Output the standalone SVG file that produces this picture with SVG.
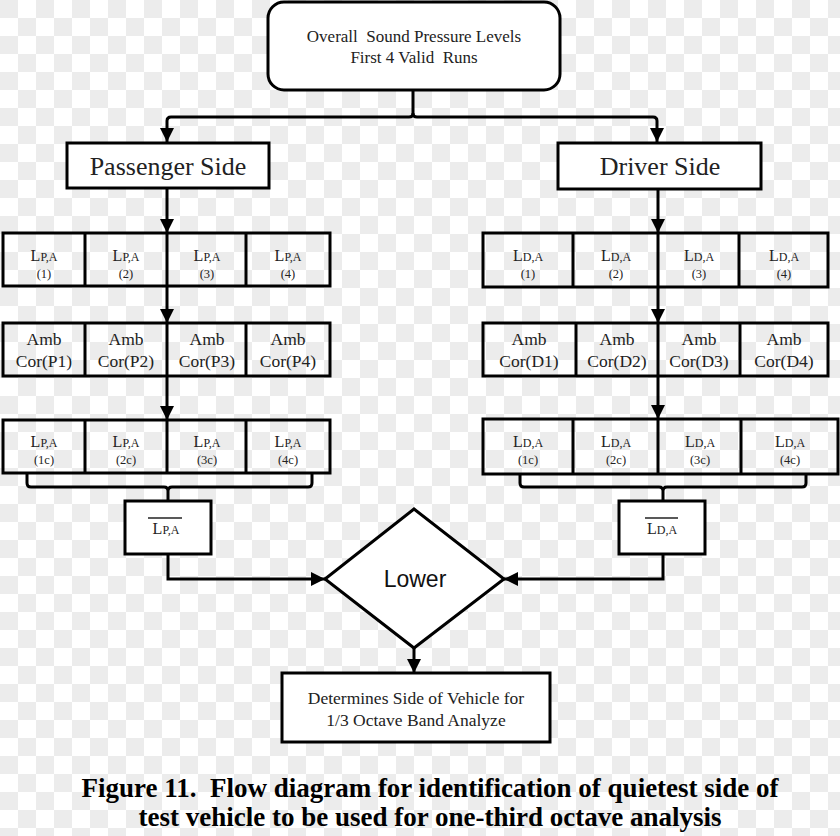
<svg xmlns="http://www.w3.org/2000/svg" width="840" height="836" viewBox="0 0 840 836">
<defs>
<pattern id="checker" width="36" height="36" patternUnits="userSpaceOnUse">
<rect width="36" height="36" fill="#ffffff"/>
<rect width="18" height="18" fill="#ececec"/>
<rect x="18" y="18" width="18" height="18" fill="#ececec"/>
</pattern>
<marker id="arr" markerWidth="14" markerHeight="14" viewBox="0 0 14 14" refX="14" refY="7" orient="auto" markerUnits="userSpaceOnUse">
<path d="M0,0 L14,7 L0,14 Z" fill="#000"/>
</marker>
</defs>
<style>
.box{fill:#fff;stroke:#000;stroke-width:3}
.cell{fill:none;stroke:#000;stroke-width:3}
.ln{fill:none;stroke:#000;stroke-width:3}
.t{font-family:"Liberation Serif","Times New Roman",serif;fill:#222;text-anchor:middle}
.L{font-size:16px}
.sub{font-size:12px}
.n{font-size:12.5px}
.s{font-family:"Liberation Sans",Arial,sans-serif;fill:#111;text-anchor:middle}
.cap{font-family:"Liberation Serif","Times New Roman",serif;font-weight:bold;fill:#000;text-anchor:middle;white-space:pre}
</style>
<rect width="840" height="836" fill="url(#checker)"/>

<g id="connectors">
<path class="ln" d="M413,90 V113 Q413,117 409,117 H171 Q167,117 167,121 V142" marker-end="url(#arr)"/>
<path class="ln" d="M413,113 Q413,117 417,117 H653 Q657,117 657,121 V142" marker-end="url(#arr)"/>
<path class="ln" d="M167,188 V233" marker-end="url(#arr)"/>
<path class="ln" d="M167,286 V323" marker-end="url(#arr)"/>
<path class="ln" d="M167,376 V420" marker-end="url(#arr)"/>
<path class="ln" d="M658,189 V233" marker-end="url(#arr)"/>
<path class="ln" d="M658,287 V323" marker-end="url(#arr)"/>
<path class="ln" d="M658,376 V419" marker-end="url(#arr)"/>
<path class="ln" d="M27,473 V483 Q27,487 31,487 H164 Q168,487 168,491 V501 M168,491 Q168,487 172,487 H308 Q312,487 312,483 V473"/>
<path class="ln" d="M520,475 V483 Q520,487 524,487 H659 Q663,487 663,491 V501 M663,491 Q663,487 667,487 H802 Q806,487 806,483 V475"/>
<path class="ln" d="M168,554 V579 H325" marker-end="url(#arr)"/>
<path class="ln" d="M663,554 V579 H504" marker-end="url(#arr)"/>
<path class="ln" d="M414,648 V673" marker-end="url(#arr)"/>
</g>

<g id="top">
<rect class="box" x="268" y="2" width="292" height="88" rx="16"/>
<text class="t" x="414" y="42" font-size="17" style="white-space:pre">Overall  Sound Pressure Levels</text>
<text class="t" x="414" y="63" font-size="17" style="white-space:pre">First 4 Valid  Runs</text>
</g>

<g id="passenger">
<rect class="box" x="67" y="143" width="202" height="45"/>
<text class="t" x="168" y="175" font-size="26">Passenger Side</text>
</g>
<g id="driver">
<rect class="box" x="558" y="143" width="203" height="46"/>
<text class="t" x="660" y="175" font-size="26">Driver Side</text>
</g>

<g id="p-row1">
<rect class="cell" x="3" y="233" width="327" height="53"/>
<path class="ln" d="M85,233 V286 M246,233 V286 M167,233 V286"/>
</g>
<g id="p1"><text class="t" x="44" y="261"><tspan class="L">L</tspan><tspan class="sub">P,A</tspan></text><text class="t n" x="44" y="278">(1)</text></g>
<g id="p2"><text class="t" x="126" y="261"><tspan class="L">L</tspan><tspan class="sub">P,A</tspan></text><text class="t n" x="126" y="278">(2)</text></g>
<g id="p3"><text class="t" x="207" y="261"><tspan class="L">L</tspan><tspan class="sub">P,A</tspan></text><text class="t n" x="207" y="278">(3)</text></g>
<g id="p4"><text class="t" x="288" y="261"><tspan class="L">L</tspan><tspan class="sub">P,A</tspan></text><text class="t n" x="288" y="278">(4)</text></g>

<g id="p-row2">
<rect class="cell" x="3" y="323" width="327" height="53"/>
<path class="ln" d="M85,323 V376 M246,323 V376 M167,323 V376"/>
</g>
<g id="pa1"><text class="t" x="44" y="345" font-size="17.5">Amb</text><text class="t" x="44" y="367" font-size="17.5">Cor(P1)</text></g>
<g id="pa2"><text class="t" x="126" y="345" font-size="17.5">Amb</text><text class="t" x="126" y="367" font-size="17.5">Cor(P2)</text></g>
<g id="pa3"><text class="t" x="207" y="345" font-size="17.5">Amb</text><text class="t" x="207" y="367" font-size="17.5">Cor(P3)</text></g>
<g id="pa4"><text class="t" x="288" y="345" font-size="17.5">Amb</text><text class="t" x="288" y="367" font-size="17.5">Cor(P4)</text></g>

<g id="p-row3">
<rect class="cell" x="3" y="420" width="327" height="53"/>
<path class="ln" d="M85,420 V473 M246,420 V473 M167,420 V473"/>
</g>
<g id="pc1"><text class="t" x="44" y="447"><tspan class="L">L</tspan><tspan class="sub">P,A</tspan></text><text class="t n" x="44" y="464">(1c)</text></g>
<g id="pc2"><text class="t" x="126" y="447"><tspan class="L">L</tspan><tspan class="sub">P,A</tspan></text><text class="t n" x="126" y="464">(2c)</text></g>
<g id="pc3"><text class="t" x="207" y="447"><tspan class="L">L</tspan><tspan class="sub">P,A</tspan></text><text class="t n" x="207" y="464">(3c)</text></g>
<g id="pc4"><text class="t" x="288" y="447"><tspan class="L">L</tspan><tspan class="sub">P,A</tspan></text><text class="t n" x="288" y="464">(4c)</text></g>

<g id="d-row1">
<rect class="cell" x="483" y="233" width="345" height="54"/>
<path class="ln" d="M573,233 V287 M739,233 V287 M658,233 V287"/>
</g>
<g id="d1"><text class="t" x="528" y="261"><tspan class="L">L</tspan><tspan class="sub">D,A</tspan></text><text class="t n" x="528" y="278">(1)</text></g>
<g id="d2"><text class="t" x="616" y="261"><tspan class="L">L</tspan><tspan class="sub">D,A</tspan></text><text class="t n" x="616" y="278">(2)</text></g>
<g id="d3"><text class="t" x="699" y="261"><tspan class="L">L</tspan><tspan class="sub">D,A</tspan></text><text class="t n" x="699" y="278">(3)</text></g>
<g id="d4"><text class="t" x="784" y="261"><tspan class="L">L</tspan><tspan class="sub">D,A</tspan></text><text class="t n" x="784" y="278">(4)</text></g>

<g id="d-row2">
<rect class="cell" x="483" y="323" width="345" height="53"/>
<path class="ln" d="M576,323 V376 M740,323 V376 M658,323 V376"/>
</g>
<g id="da1"><text class="t" x="529" y="345" font-size="17.5">Amb</text><text class="t" x="529" y="367" font-size="17.5">Cor(D1)</text></g>
<g id="da2"><text class="t" x="617" y="345" font-size="17.5">Amb</text><text class="t" x="617" y="367" font-size="17.5">Cor(D2)</text></g>
<g id="da3"><text class="t" x="699" y="345" font-size="17.5">Amb</text><text class="t" x="699" y="367" font-size="17.5">Cor(D3)</text></g>
<g id="da4"><text class="t" x="784" y="345" font-size="17.5">Amb</text><text class="t" x="784" y="367" font-size="17.5">Cor(D4)</text></g>

<g id="d-row3">
<rect class="cell" x="483" y="419" width="355" height="55"/>
<path class="ln" d="M573,419 V474 M741,419 V474 M658,419 V474"/>
</g>
<g id="dc1"><text class="t" x="528" y="447"><tspan class="L">L</tspan><tspan class="sub">D,A</tspan></text><text class="t n" x="528" y="464">(1c)</text></g>
<g id="dc2"><text class="t" x="616" y="447"><tspan class="L">L</tspan><tspan class="sub">D,A</tspan></text><text class="t n" x="616" y="464">(2c)</text></g>
<g id="dc3"><text class="t" x="700" y="447"><tspan class="L">L</tspan><tspan class="sub">D,A</tspan></text><text class="t n" x="700" y="464">(3c)</text></g>
<g id="dc4"><text class="t" x="790" y="447"><tspan class="L">L</tspan><tspan class="sub">D,A</tspan></text><text class="t n" x="790" y="464">(4c)</text></g>

<g id="p-avg">
<rect class="box" x="125" y="501" width="86" height="53"/>
<line x1="148" y1="518" x2="182" y2="518" stroke="#222" stroke-width="1.5"/>
<text class="t" x="166" y="534"><tspan class="L">L</tspan><tspan class="sub">P,A</tspan></text>
</g>
<g id="d-avg">
<rect class="box" x="619" y="501" width="86" height="53"/>
<line x1="645" y1="518" x2="678" y2="518" stroke="#222" stroke-width="1.5"/>
<text class="t" x="662" y="534"><tspan class="L">L</tspan><tspan class="sub">D,A</tspan></text>
</g>

<g id="lower">
<path class="box" d="M414,509 L504,579 L414,648 L325,579 Z"/>
<text class="s" x="415" y="587" font-size="23">Lower</text>
</g>

<g id="result">
<rect class="box" x="282" y="673" width="268" height="69"/>
<text class="t" x="416" y="704" font-size="17.5">Determines Side of Vehicle for</text>
<text class="t" x="416" y="726" font-size="17.5">1/3 Octave Band Analyze</text>
</g>

<g id="caption">
<text class="cap" x="430" y="797" font-size="27">Figure 11.  Flow diagram for identification of quietest side of</text>
<text class="cap" x="430" y="826" font-size="27">test vehicle to be used for one-third octave analysis</text>
</g>
</svg>
